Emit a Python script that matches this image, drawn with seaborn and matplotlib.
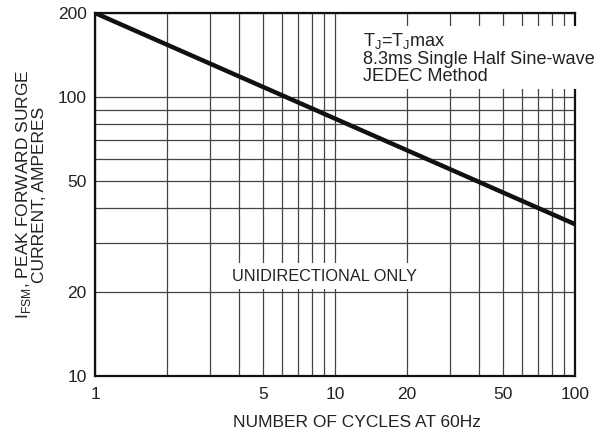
import numpy as np
import pandas as pd
import seaborn as sns
import matplotlib
matplotlib.use("Agg")
import matplotlib.pyplot as plt
from matplotlib.ticker import FixedLocator, NullFormatter

# values
cycles = [1, 100]
surge_current = [200, 35]

x_major = [1, 5, 10, 20, 50, 100]
x_minor = [2, 3, 4, 6, 7, 8, 9, 30, 40, 60, 70, 80, 90]
y_major = [10, 20, 50, 100, 200]
y_minor = [30, 40, 60, 70, 80, 90]

sns.set_style("white")
plt.rcParams['font.family'] = ['Liberation Sans', 'DejaVu Sans']
plt.rcParams['mathtext.fontset'] = 'custom'
plt.rcParams['mathtext.rm'] = 'Liberation Sans'

df = pd.DataFrame({'cycles': cycles, 'current': surge_current})

fs = 12.5
fig = plt.figure(figsize=(6.01, 4.36), dpi=100)
ax = fig.add_axes([95 / 601, 60 / 436, 480 / 601, 363 / 436])

ax.set_xscale('log')
ax.set_yscale('log')
ax.set_xlim(1, 100)
ax.set_ylim(10, 200)

ax.xaxis.set_major_locator(FixedLocator(x_major))
ax.xaxis.set_minor_locator(FixedLocator(x_minor))
ax.yaxis.set_major_locator(FixedLocator(y_major))
ax.yaxis.set_minor_locator(FixedLocator(y_minor))
ax.set_xticklabels([str(v) for v in x_major])
ax.set_yticklabels([str(v) for v in y_major])
ax.xaxis.set_minor_formatter(NullFormatter())
ax.yaxis.set_minor_formatter(NullFormatter())
ax.tick_params(which='both', length=0, labelsize=fs, colors='#222222')
ax.tick_params(axis='x', pad=8)
ax.tick_params(axis='y', pad=6)

ax.grid(True, which='both', color='#444444', linewidth=0.9)
ax.set_axisbelow(True)

sns.lineplot(data=df, x='cycles', y='current', ax=ax, color='#111111',
             linewidth=3.2, zorder=5)

for s in ax.spines.values():
    s.set_color('#111111')
    s.set_linewidth(1.6)
    s.set_zorder(6)

ax.set_xlabel('NUMBER OF CYCLES AT 60Hz', fontsize=fs, color='#222222')
ax.xaxis.set_label_coords(0.546, -0.108)
ax.set_ylabel('I$_{\\mathregular{FSM}}$, PEAK FORWARD SURGE\nCURRENT, AMPERES',
              fontsize=fs, labelpad=8, color='#222222', linespacing=0.85)

ax.text(0.558, 0.950,
        'T$_{\\mathregular{J}}$=T$_{\\mathregular{J}}$max\n8.3ms Single Half Sine-wave\nJEDEC Method',
        transform=ax.transAxes, ha='left', va='top', fontsize=13.1,
        color='#222222', linespacing=1.0, zorder=7,
        bbox=dict(facecolor='white', edgecolor='none', pad=3))

ax.text(0.479, 0.275, 'UNIDIRECTIONAL ONLY', transform=ax.transAxes,
        ha='center', va='center', fontsize=11.7, color='#222222', zorder=7,
        bbox=dict(facecolor='white', edgecolor='none', pad=4))

fig.savefig('out.png', dpi=100)
